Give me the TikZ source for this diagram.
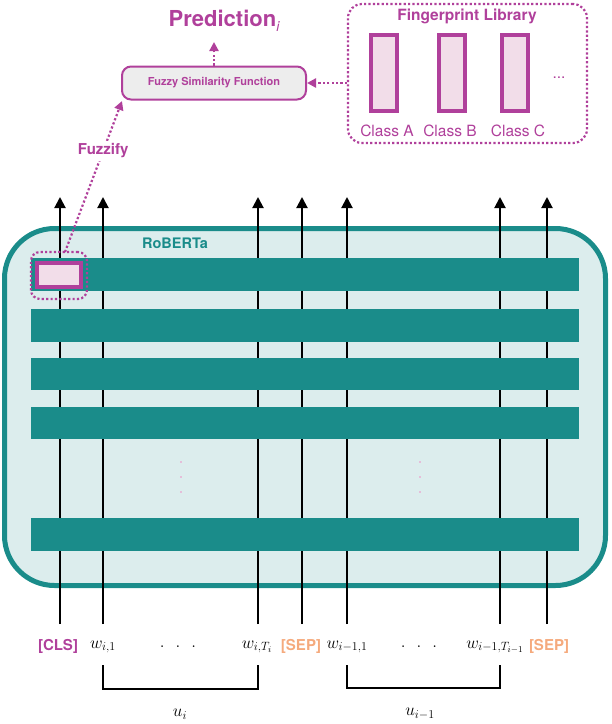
\documentclass[tikz,border=0pt]{standalone}
\usepackage{fontspec}
\setsansfont{TeX Gyre Heros}
\usetikzlibrary{arrows.meta}
\definecolor{tealc}{RGB}{26,140,138}
\definecolor{tealbg}{RGB}{220,237,237}
\definecolor{mag}{RGB}{176,64,155}
\definecolor{pinkf}{RGB}{242,221,233}
\definecolor{sepc}{RGB}{245,170,125}
\definecolor{grayf}{RGB}{237,237,237}
\begin{document}
\begin{tikzpicture}[x=1pt,y=-1pt,
  bar/.style={fill=tealc,draw=none,inner sep=0,minimum width=548,minimum height=32.5},
  classbox/.style={draw=mag,line width=4,fill=pinkf,inner sep=0,minimum width=26,minimum height=76},
  dotbox/.style={draw=mag,line width=2.2,dash pattern=on 2.2 off 2.2,rounded corners=12},
  dotarrow/.style={draw=mag,line width=2.2,dash pattern=on 2.2 off 2.2,-{Triangle[length=9,width=9]}},
  tokarrow/.style={draw=black,line width=2,-{Triangle[length=11,width=11]}},
  bracket/.style={draw=black,line width=2},
  magtxt/.style={text=mag,font=\sffamily\bfseries},
  toklab/.style={font=\fontsize{18.5}{20}\selectfont,inner sep=0},
  clslab/.style={font=\sffamily\bfseries\fontsize{15}{17}\selectfont,inner sep=0},
  classlab/.style={text=mag,font=\sffamily\fontsize{15.5}{17}\selectfont,inner sep=0},
  pinkdot/.style={fill=pinkf!80!mag,draw=none}
]
\useasboundingbox (0,0) rectangle (612,724);

% RoBERTa box
\node[draw=tealc,line width=5,fill=tealbg,rounded corners=50,inner sep=0,
      minimum width=601,minimum height=357] (rob) at (305,407) {};
\node[text=tealc,font=\sffamily\bfseries\fontsize{14.5}{16}\selectfont] (roblab) at (175,243) {RoBERTa};

% token lines with arrows
\foreach \n/\x in {1/60,2/103,3/258,4/302,5/347,6/500,7/547}{
  \coordinate (b\n) at (\x,624);
  \coordinate (t\n) at (\x,197);
  \draw[tokarrow] (b\n) -- (t\n);
}

% layers
\node[bar] (bar1) at (305,274.5) {};
\node[bar] (bar2) at (305,325.5) {};
\node[bar] (bar3) at (305,374) {};
\node[bar] (bar4) at (305,423) {};
\node[bar] (bar5) at (305,534.5) {};

% vertical ellipsis dots
\foreach \x in {181,420}{
  \foreach \y in {462,477,492}{
    \fill[pinkdot] (\x-1,\y-1) rectangle (\x+1,\y+1);
  }
}

% CLS highlight
\node[draw=mag,line width=4,fill=pinkf,inner sep=0,minimum width=44,minimum height=24] (clsbox) at (59,275) {};
\node[dotbox,rounded corners=9,inner sep=0,minimum width=56,minimum height=47] (clsring) at (59,275.5) {};

% Fuzzy similarity function
\node[draw=mag,line width=2,fill=grayf,rounded corners=9,inner sep=0,
      minimum width=184,minimum height=33,magtxt,font=\sffamily\bfseries\fontsize{11}{13}\selectfont] (fz) at (214,83) {Fuzzy Similarity Function};

% Prediction
\node[magtxt,font=\sffamily\bfseries\fontsize{22}{24}\selectfont] (pred) at (224,21) {Prediction\raisebox{-5pt}{\fontsize{14}{15}\selectfont\mdseries\itshape i}};
\coordinate (predtip) at (fz.north |- 0,42);
\draw[dotarrow] (fz.north) -- (predtip);

% Fingerprint library
\node[dotbox,rounded corners=14,inner sep=0,minimum width=239,minimum height=139] (lib) at (467.5,73.5) {};
\node[magtxt,font=\sffamily\bfseries\fontsize{15.5}{17}\selectfont] (libt) at (467,16) {Fingerprint Library};
\node[classbox] (cA) at (384,73) {};
\node[classbox] (cB) at (452,73) {};
\node[classbox] (cC) at (515,73) {};
\node[classlab] (lA) at (387,131) {Class A};
\node[classlab] (lB) at (450,131) {Class B};
\node[classlab] (lC) at (518,131) {Class C};
\node[classlab] (ldots) at (559,78) {...};
\draw[dotarrow] (lib.west |- fz.east) -- (fz.east);

% Fuzzify
\coordinate (fzs) at (65,252);
\coordinate (fzt) at (122,101);
\draw[dotarrow] (fzs) -- node[pos=0.67,fill=white,inner sep=3,magtxt,font=\sffamily\bfseries\fontsize{15}{17}\selectfont] (fzl) {Fuzzify} (fzt);

% token labels
\node[clslab,text=mag] (lcls) at (58,646) {[CLS]};
\node[toklab] (lw1) at (103,647) {$w_{i,1}$};
\node[toklab] (ld1) at (178,647) {$.\ \ .\ \ .$};
\node[toklab] (lwT) at (257,647) {$w_{i,T_i}$};
\node[clslab,text=sepc] (lsep1) at (301,646) {[SEP]};
\node[toklab] (lw2) at (347,647) {$w_{i-1,1}$};
\node[toklab] (ld2) at (419,647) {$.\ \ .\ \ .$};
\node[toklab] (lwT2) at (495,647) {$w_{i-1,T_{i-1}}$};
\node[clslab,text=sepc] (lsep2) at (549,646) {[SEP]};

% brackets
\coordinate (k1a) at (103,665); \coordinate (k1b) at (103,689);
\coordinate (k1c) at (258,689); \coordinate (k1d) at (258,665);
\draw[bracket] (k1a) -- (k1b) -- (k1c) -- (k1d);
\coordinate (k2a) at (347,665); \coordinate (k2b) at (347,688);
\coordinate (k2c) at (500,688); \coordinate (k2d) at (500,665);
\draw[bracket] (k2a) -- (k2b) -- (k2c) -- (k2d);
\node[toklab] (ui) at (180,714) {$u_i$};
\node[toklab] (ui1) at (420,714) {$u_{i-1}$};
\end{tikzpicture}
\end{document}
